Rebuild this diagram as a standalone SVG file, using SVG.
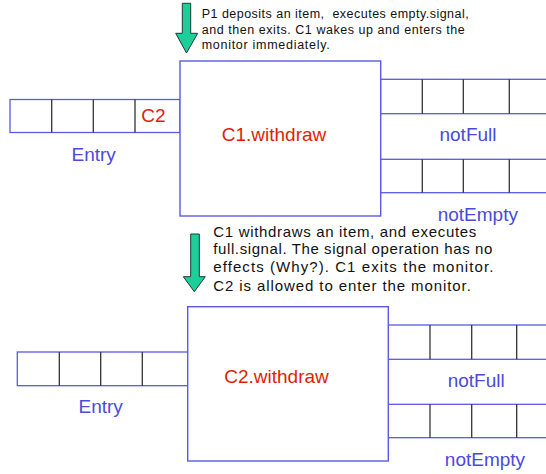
<svg xmlns="http://www.w3.org/2000/svg" width="546" height="474" viewBox="0 0 546 474">
<style>
.box{fill:#fff;stroke:#5a5ae6;stroke-width:1.4}
.q{fill:#fff;stroke:#5a5ae6;stroke-width:1.3}
.div{stroke:#333;stroke-width:1.3}
.lbl{font-family:"Liberation Sans",Arial,sans-serif;font-size:19px;fill:#4a4ae0;text-anchor:middle}
.red{font-family:"Liberation Sans",Arial,sans-serif;font-size:19px;fill:#e01e08;text-anchor:middle}
.n1{font-family:"Liberation Sans",Arial,sans-serif;font-size:12.5px;fill:#111;white-space:pre}
.n2{font-family:"Liberation Sans",Arial,sans-serif;font-size:15px;fill:#111}
.arr{fill:#1ccf9a;stroke:#1c3a34;stroke-width:1}
</style>
<rect width="546" height="474" fill="#fff"/>
<g id="connectors">
  <path class="arr" d="M182.3,3.3 H190.7 V33.3 H197.7 L186.5,53 L175.7,33.3 H182.3 Z"/>
  <path class="arr" d="M190.7,234 H199.3 V276.7 H205.3 L194.3,291.7 L183.3,276.7 H190.7 Z"/>
</g>
<g id="note1">
  <text class="n1" x="201.7" y="18.3" textLength="267" lengthAdjust="spacing" xml:space="preserve">P1 deposits an item,  executes empty.signal,</text>
  <text class="n1" x="201.7" y="33.5" textLength="263" lengthAdjust="spacing">and then exits. C1 wakes up and enters the</text>
  <text class="n1" x="201.7" y="49" textLength="128" lengthAdjust="spacing">monitor immediately.</text>
</g>
<g id="entry1">
  <rect class="q" x="10" y="99.5" width="170" height="33"/>
  <line class="div" x1="51.7" y1="99.5" x2="51.7" y2="132.5"/>
  <line class="div" x1="93.3" y1="99.5" x2="93.3" y2="132.5"/>
  <line class="div" x1="135" y1="99.5" x2="135" y2="132.5"/>
  <text class="red" x="153.5" y="122.3">C2</text>
  <text class="lbl" x="93.7" y="160.7">Entry</text>
</g>
<g id="notFull1">
  <rect class="q" x="380.5" y="79.3" width="170" height="34.4"/>
  <line class="div" x1="422.3" y1="79.3" x2="422.3" y2="113.7"/>
  <line class="div" x1="463.3" y1="79.3" x2="463.3" y2="113.7"/>
  <line class="div" x1="509.3" y1="79.3" x2="509.3" y2="113.7"/>
  <text class="lbl" x="468" y="140.7">notFull</text>
</g>
<g id="notEmpty1">
  <rect class="q" x="380.5" y="159.3" width="170" height="33.4"/>
  <line class="div" x1="422.3" y1="159.3" x2="422.3" y2="192.7"/>
  <line class="div" x1="463.3" y1="159.3" x2="463.3" y2="192.7"/>
  <line class="div" x1="509.3" y1="159.3" x2="509.3" y2="192.7"/>
  <text class="lbl" x="477.8" y="220.7">notEmpty</text>
</g>
<g id="monitor1">
  <rect class="box" x="180" y="61" width="200.7" height="155"/>
  <text class="red" x="274" y="140.7">C1.withdraw</text>
</g>
<g id="note2">
  <text class="n2" x="213.3" y="236.7" textLength="263" lengthAdjust="spacing">C1 withdraws an item, and executes</text>
  <text class="n2" x="213.3" y="254.4" textLength="279" lengthAdjust="spacing">full.signal. The signal operation has no</text>
  <text class="n2" x="213.3" y="272.4" textLength="280" lengthAdjust="spacing">effects (Why?). C1 exits the monitor.</text>
  <text class="n2" x="213.3" y="291" textLength="257.5" lengthAdjust="spacing">C2 is allowed to enter the monitor.</text>
</g>
<g id="entry2">
  <rect class="q" x="17.3" y="352" width="170.4" height="33.7"/>
  <line class="div" x1="59.3" y1="352" x2="59.3" y2="385.7"/>
  <line class="div" x1="100.7" y1="352" x2="100.7" y2="385.7"/>
  <line class="div" x1="142.3" y1="352" x2="142.3" y2="385.7"/>
  <text class="lbl" x="100.7" y="412.7">Entry</text>
</g>
<g id="notFull2">
  <rect class="q" x="388" y="325" width="170" height="34.3"/>
  <line class="div" x1="430" y1="325" x2="430" y2="359.3"/>
  <line class="div" x1="471.7" y1="325" x2="471.7" y2="359.3"/>
  <line class="div" x1="516.7" y1="325" x2="516.7" y2="359.3"/>
  <text class="lbl" x="476.2" y="387.3">notFull</text>
</g>
<g id="notEmpty2">
  <rect class="q" x="388" y="404.3" width="170" height="33.4"/>
  <line class="div" x1="430" y1="404.3" x2="430" y2="437.7"/>
  <line class="div" x1="471.7" y1="404.3" x2="471.7" y2="437.7"/>
  <line class="div" x1="516.7" y1="404.3" x2="516.7" y2="437.7"/>
  <text class="lbl" x="485" y="465.7">notEmpty</text>
</g>
<g id="monitor2">
  <rect class="box" x="187.7" y="306.7" width="200.6" height="154.3"/>
  <text class="red" x="276.5" y="383">C2.withdraw</text>
</g>
</svg>
